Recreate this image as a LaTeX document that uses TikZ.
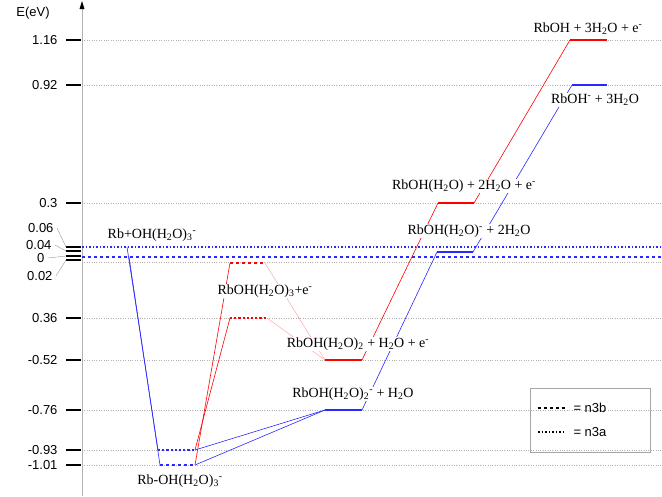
\documentclass[tikz,border=0pt]{standalone}
\usepackage{fontspec}
\setmainfont{Liberation Serif}
\newfontfamily\axf{Liberation Sans}
\definecolor{bl}{RGB}{40,40,255}
\begin{document}
\begin{tikzpicture}[x=1pt,y=-1pt,
  lvl/.style={line width=2.2pt},
  conn/.style={line width=0.6pt},
  lab/.style={font=\fontsize{14}{16}\selectfont, fill=white, inner sep=1pt},
  tick/.style={font=\axf\fontsize{13}{15}\selectfont, anchor=east},
  grid/.style={gray!60, dotted, line width=0.4pt}]
\useasboundingbox (0,0) rectangle (662,496);
% grid
\foreach \y in {40,85,203,262,318,360,410,450,465}
  \draw[grid] (82,\y) -- (662,\y);
% axis
\draw[gray!60, line width=0.6pt] (82,496) -- (82,8);
\fill (82,1) -- (79.5,9) -- (84.5,9) -- cycle;
\node[font=\axf\fontsize{13}{15}\selectfont] (ev) at (33,13) {E(eV)};
% ticks
\foreach \y/\t in {40/1.16,85/0.92,203/0.3,318/0.36,360/-0.52,410/-0.76,450/-0.93,465/-1.01}{
  \draw[line width=1.5pt] (66,\y) -- (81,\y);
  \node[tick] at (61,\y) {\t};}
\foreach \y in {247,251,256,260} \draw[line width=1.5pt] (66,\y) -- (81,\y);
\node[tick] (t1) at (57,228) {0.06};
\node[tick] (t2) at (55,245) {0.04};
\node[tick] (t3) at (48,258) {0};
\node[tick] (t4) at (56,276) {0.02};
\draw[gray,line width=0.3pt] (t1.east) -- (66,247);
\draw[gray,line width=0.3pt] (t2.east) -- (66,251);
\draw[gray,line width=0.3pt] (t3.east) -- (66,256);
\draw[gray,line width=0.3pt] (t4.east) -- (66,260);
% long blue lines
\draw[bl, dotted, line width=1.5pt] (82,247) -- (662,247);
\draw[bl, dashed, line width=1.2pt] (82,257) -- (662,257);
% coordinates
\coordinate (s1) at (127,247); \coordinate (s2) at (129,257);
\coordinate (m1a) at (158,450); \coordinate (m1b) at (195,450);
\coordinate (m2a) at (160,465); \coordinate (m2b) at (195,465);
\coordinate (rda) at (230,263); \coordinate (rdb) at (265,263);
\coordinate (rta) at (230,318); \coordinate (rtb) at (267,318);
\coordinate (r2a) at (325,360); \coordinate (r2b) at (362,360);
\coordinate (b2a) at (325,410); \coordinate (b2b) at (362,410);
\coordinate (r1a) at (438,203); \coordinate (r1b) at (474,203);
\coordinate (b1a) at (437,252); \coordinate (b1b) at (473,252);
\coordinate (r0a) at (570,40); \coordinate (r0b) at (607,40);
\coordinate (b0a) at (572,85); \coordinate (b0b) at (607,85);
% connectors
\draw[bl,conn] (s1) -- (m1a); \draw[bl,conn] (s2) -- (m2a);
\draw[bl,conn] (m1b) -- (b2a); \draw[bl,conn] (m2b) -- (b2a);
\draw[red,conn] (m2b) -- (rda); \draw[red,conn] (m1b) -- (rta);
\draw[red!40,line width=0.4pt] (rdb) -- (r2a); \draw[red!40,line width=0.4pt] (rtb) -- (r2a);
\draw[red,conn] (r2b) -- (r1a); \draw[red,conn] (r1b) -- (r0a);
\draw[bl,conn] (b2b) -- (b1a); \draw[bl,conn] (b1b) -- (b0a);
% levels
\draw[bl,lvl,dotted] (m1a) -- (m1b);
\draw[bl,lvl,dashed] (m2a) -- (m2b);
\draw[red,lvl,dashed] (rda) -- (rdb);
\draw[red,lvl,dotted] (rta) -- (rtb);
\draw[red,lvl] (r2a) -- (r2b);
\draw[bl,lvl] (b2a) -- (b2b);
\draw[red,lvl] (r1a) -- (r1b);
\draw[bl,lvl] (b1a) -- (b1b);
\draw[red,lvl] (r0a) -- (r0b);
\draw[bl,lvl] (b0a) -- (b0b);
% labels
\node[lab] (l1) at (152,235) {Rb+OH(H\textsubscript{2}O)\textsubscript{3}\textsuperscript{-}};
\node[lab] (l2) at (180,481) {Rb-OH(H\textsubscript{2}O)\textsubscript{3}\textsuperscript{-}};
\node[lab] (l3) at (265,291) {RbOH(H\textsubscript{2}O)\textsubscript{3}+e\textsuperscript{-}};
\node[lab] (l4) at (358,344) {RbOH(H\textsubscript{2}O)\textsubscript{2} + H\textsubscript{2}O + e\textsuperscript{-}};
\node[lab] (l5) at (353,394) {RbOH(H\textsubscript{2}O)\textsubscript{2}\textsuperscript{-} + H\textsubscript{2}O};
\node[lab] (l6) at (469,231) {RbOH(H\textsubscript{2}O)\textsuperscript{-} + 2H\textsubscript{2}O};
\node[lab] (l7) at (464,186) {RbOH(H\textsubscript{2}O) + 2H\textsubscript{2}O + e\textsuperscript{-}};
\node[lab] (l8) at (595,100) {RbOH\textsuperscript{-} + 3H\textsubscript{2}O};
\node[lab] (l9) at (588,29) {RbOH + 3H\textsubscript{2}O + e\textsuperscript{-}};
% legend
\draw[gray!70, line width=0.5pt] (530,388) rectangle (650,452);
\draw[line width=1.2pt, dashed] (538,408) -- (566,408);
\node[font=\axf\fontsize{13}{15}\selectfont, anchor=west] (g1) at (570,408) {= n3b};
\draw[line width=1.5pt, dotted] (538,432) -- (566,432);
\node[font=\axf\fontsize{13}{15}\selectfont, anchor=west] (g2) at (570,432) {= n3a};
\end{tikzpicture}
\end{document}
